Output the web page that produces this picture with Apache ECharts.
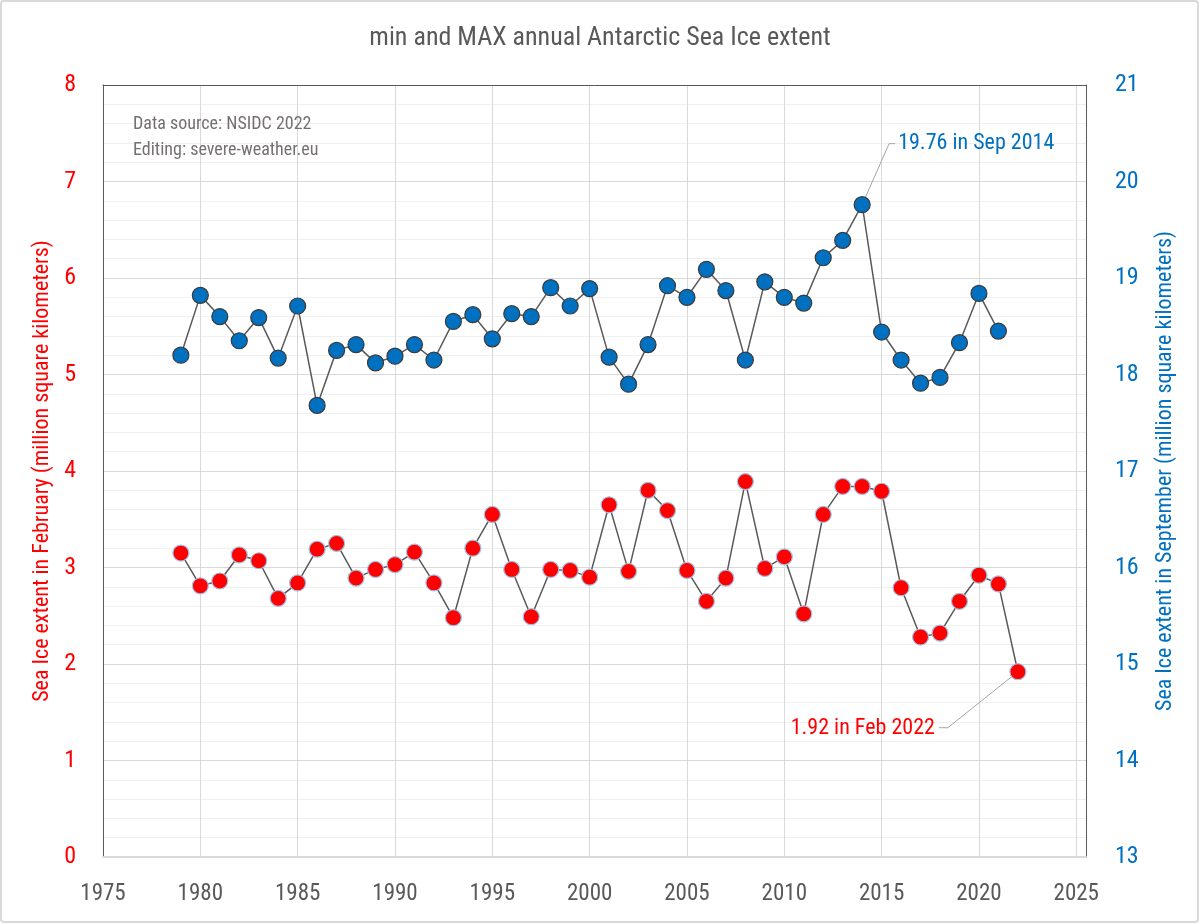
<!DOCTYPE html>
<html>
<head>
<meta charset="utf-8">
<script src="https://cdn.jsdelivr.net/npm/echarts@6/dist/echarts.min.js"></script>
<style>
html,body{margin:0;padding:0;background:#fff;}
#chart{width:1200px;height:924px;}
</style>
</head>
<body>
<div id="chart"></div>
<script>
const FONT = "'Liberation Sans Narrow','Roboto Condensed','DejaVu Sans Condensed',sans-serif";
const titleText = 'min and MAX annual Antarctic Sea Ice extent';
const leftAxisName = 'Sea Ice extent in February (million square kilometers)';
const rightAxisName = 'Sea Ice extent in September (million square kilometers)';
const noteLines = ['Data source: NSIDC 2022', 'Editing: severe-weather.eu'];

const febYears = [1979,1980,1981,1982,1983,1984,1985,1986,1987,1988,1989,1990,1991,1992,1993,1994,1995,1996,1997,1998,1999,2000,2001,2002,2003,2004,2005,2006,2007,2008,2009,2010,2011,2012,2013,2014,2015,2016,2017,2018,2019,2020,2021,2022];
const febExtent = [3.15,2.81,2.86,3.13,3.07,2.68,2.84,3.19,3.25,2.89,2.98,3.03,3.16,2.84,2.48,3.20,3.55,2.98,2.49,2.98,2.97,2.90,3.65,2.96,3.80,3.59,2.97,2.65,2.89,3.89,2.99,3.11,2.52,3.55,3.84,3.84,3.79,2.79,2.28,2.32,2.65,2.92,2.83,1.92];

const sepYears = [1979,1980,1981,1982,1983,1984,1985,1986,1987,1988,1989,1990,1991,1992,1993,1994,1995,1996,1997,1998,1999,2000,2001,2002,2003,2004,2005,2006,2007,2008,2009,2010,2011,2012,2013,2014,2015,2016,2017,2018,2019,2020,2021];
const sepExtent = [18.20,18.82,18.60,18.35,18.59,18.17,18.71,17.68,18.25,18.31,18.12,18.19,18.31,18.15,18.55,18.62,18.37,18.63,18.60,18.90,18.71,18.89,18.18,17.90,18.31,18.92,18.80,19.09,18.87,18.15,18.96,18.80,18.74,19.21,19.39,19.76,18.44,18.15,17.91,17.97,18.33,18.84,18.45];

const sepAnnot = {year: 2014, value: 19.76, text: '19.76 in Sep 2014'};
const febAnnot = {year: 2022, value: 1.92, text: '1.92 in Feb 2022'};

const RED = '#FF0000', BLUE = '#0070C0', GRAY = '#595959';

const chart = echarts.init(document.getElementById('chart'));
const option = {
  animation: false,
  backgroundColor: '#fff',
  title: {
    text: titleText, left: 'center', top: 20,
    textStyle: {fontFamily: FONT, fontSize: 26, fontWeight: 'normal', color: GRAY}
  },
  grid: {left: 103, right: 114, top: 85, bottom: 67, containLabel: false},
  xAxis: [{
    type: 'value', min: 1975, max: 2025.5, interval: 5,
    axisLine: {show: true, lineStyle: {color: '#d9d9d9', width: 2}},
    axisTick: {show: false},
    axisLabel: {
      fontFamily: FONT, fontSize: 23, color: GRAY, margin: 26,
      formatter: v => (v % 5 === 0 ? String(v) : '')
    },
    splitLine: {show: true, lineStyle: {color: '#d9d9d9', width: 1}}
  }, {
    type: 'value', min: 1975, max: 2025.5, position: 'top',
    axisLine: {show: true, lineStyle: {color: GRAY, width: 1}},
    axisTick: {show: false}, axisLabel: {show: false}, splitLine: {show: false}
  }],
  yAxis: [{
    type: 'value', min: 0, max: 8, interval: 1, position: 'left',
    name: leftAxisName, nameLocation: 'middle', nameGap: 50, nameRotate: 90,
    nameTextStyle: {fontFamily: FONT, fontSize: 22, color: RED},
    axisLine: {show: true, lineStyle: {color: GRAY, width: 1}},
    axisTick: {show: false},
    axisLabel: {fontFamily: FONT, fontSize: 24, color: RED, margin: 27},
    splitLine: {show: true, lineStyle: {color: '#d9d9d9', width: 1}},
    minorTick: {show: false, splitNumber: 5},
    minorSplitLine: {show: true, lineStyle: {color: '#f0f0f0', width: 1}}
  }, {
    type: 'value', min: 13, max: 21, interval: 1, position: 'right',
    name: rightAxisName, nameLocation: 'middle', nameGap: 68, nameRotate: 90,
    nameTextStyle: {fontFamily: FONT, fontSize: 22, color: BLUE},
    axisLine: {show: true, lineStyle: {color: GRAY, width: 1}},
    axisTick: {show: false},
    axisLabel: {fontFamily: FONT, fontSize: 24, color: BLUE, margin: 29},
    splitLine: {show: false}
  }],
  series: [{
    name: 'February', type: 'line', xAxisIndex: 0, yAxisIndex: 0,
    data: febYears.map((y, i) => [y, febExtent[i]]),
    symbol: 'circle', symbolSize: 16,
    lineStyle: {color: GRAY, width: 1.5},
    itemStyle: {color: RED, borderColor: '#9dc3e6', borderWidth: 1.2},
    z: 3
  }, {
    name: 'September', type: 'line', xAxisIndex: 0, yAxisIndex: 1,
    data: sepYears.map((y, i) => [y, sepExtent[i]]),
    symbol: 'circle', symbolSize: 16,
    lineStyle: {color: GRAY, width: 1.5},
    itemStyle: {color: BLUE, borderColor: '#3a3a3a', borderWidth: 1.2},
    z: 3
  }]
};
chart.setOption(option);

const pSep = chart.convertToPixel({seriesIndex: 1}, [sepAnnot.year, sepAnnot.value]);
const pFeb = chart.convertToPixel({seriesIndex: 0}, [febAnnot.year, febAnnot.value]);

chart.setOption({
  graphic: [
    {type: 'rect', shape: {x: 1, y: 1, width: 1197, height: 921, r: 3}, style: {fill: 'none', stroke: '#d9d9d9', lineWidth: 2}, silent: true},
    {type: 'text', left: 133, top: 115, style: {text: noteLines[0], font: '18px ' + FONT, fill: '#767171'}},
    {type: 'text', left: 133, top: 141, style: {text: noteLines[1], font: '18px ' + FONT, fill: '#767171'}},
    {type: 'polyline', shape: {points: [[pSep[0], pSep[1]], [pSep[0] + 27, pSep[1] - 61], [pSep[0] + 33, pSep[1] - 61]]}, style: {stroke: '#a6a6a6', lineWidth: 1, fill: 'none'}, z: 2},
    {type: 'text', x: pSep[0] + 36, y: pSep[1] - 61, style: {text: sepAnnot.text, font: '22px ' + FONT, fill: BLUE, verticalAlign: 'middle', align: 'left'}, z: 5},
    {type: 'polyline', shape: {points: [[pFeb[0], pFeb[1]], [pFeb[0] - 70, pFeb[1] + 56], [pFeb[0] - 79, pFeb[1] + 56]]}, style: {stroke: '#a6a6a6', lineWidth: 1, fill: 'none'}, z: 2},
    {type: 'text', x: pFeb[0] - 83, y: pFeb[1] + 57, style: {text: febAnnot.text, font: '22px ' + FONT, fill: RED, verticalAlign: 'middle', align: 'right'}, z: 5}
  ]
});
</script>
</body>
</html>
